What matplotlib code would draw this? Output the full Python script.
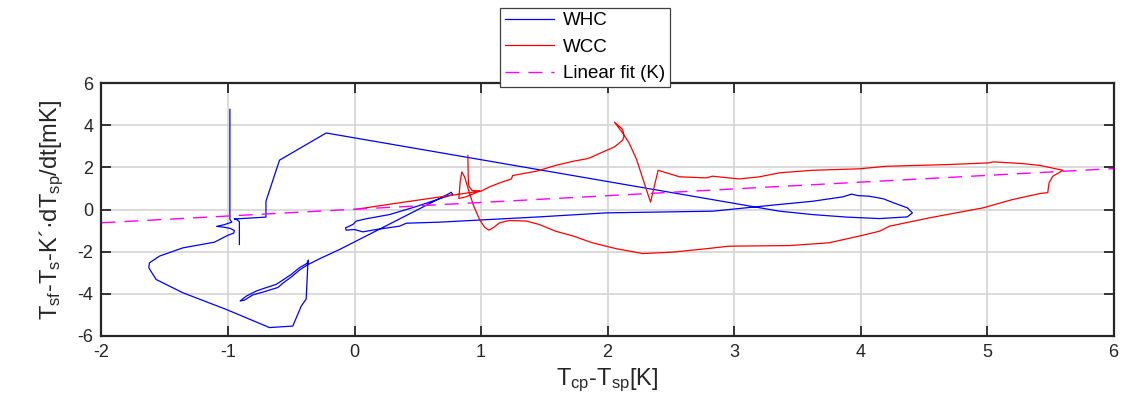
import matplotlib
matplotlib.use('Agg')
from matplotlib import pyplot as plt

plt.rcParams['font.family'] = ['Liberation Sans', 'DejaVu Sans']
plt.rcParams['mathtext.fontset'] = 'custom'
plt.rcParams['mathtext.rm'] = 'Liberation Sans'
plt.rcParams['mathtext.it'] = 'Liberation Sans'

# WHC trajectory
whc_x = [-0.985, -0.985, -0.97, -1.03, -1.09, -1.03, -0.98, -0.95, -0.955, -1.0,
         -1.107, -1.357, -1.541, -1.621, -1.626, -1.568, -1.357, -1.014, -0.672, -0.488,
         -0.421, -0.382, -0.369, -0.364, -0.377, -0.435, -0.50, -0.58, -0.619, -0.725,
         -0.777, -0.856, -0.904, -0.87, -0.804, -0.725, -0.606, -0.567, -0.50, -0.43,
         -0.37, -0.277, -0.119, 0.30, 0.75, 0.764, 0.777, 0.672, 0.488, 0.277,
         0.092, 0.013, -0.013, -0.071, -0.066, 0.0, 0.066, 0.17, 0.356, 0.41,
         0.672, 1.46, 1.99, 2.83, 3.36, 3.62, 3.86, 3.93, 3.98, 4.07,
         4.18, 4.26, 4.37, 4.41, 4.37, 4.15, 3.89, 3.62, 3.36, -0.224,
         -0.593, -0.70, -0.70, -0.95, -0.93, -0.91, -0.91]
whc_y = [4.75, -0.47, -0.60, -0.72, -0.80, -0.84, -0.90, -1.00, -1.12, -1.22,
         -1.55, -1.82, -2.21, -2.53, -2.77, -3.32, -3.95, -4.74, -5.60, -5.53,
         -4.58, -4.25, -2.61, -2.40, -2.56, -2.76, -3.08, -3.40, -3.55, -3.76,
         -3.87, -4.11, -4.34, -4.30, -4.05, -3.92, -3.70, -3.50, -3.20, -2.85,
         -2.62, -2.34, -1.90, -0.62, 0.76, 0.82, 0.71, 0.51, 0.14, -0.24,
         -0.44, -0.55, -0.71, -0.87, -0.98, -0.95, -1.06, -0.95, -0.79, -0.65,
         -0.60, -0.35, -0.16, -0.08, 0.24, 0.39, 0.60, 0.73, 0.66, 0.63,
         0.51, 0.32, 0.08, -0.16, -0.35, -0.43, -0.36, -0.24, -0.08, 3.63,
         2.34, 0.39, -0.36, -0.45, -0.48, -0.58, -1.66]

# WCC trajectory
wcc_x = [0.0, 0.3, 0.6, 0.82, 0.99, 0.88, 0.825, 0.835, 0.848, 0.87,
         0.90, 0.94, 0.99, 1.03, 1.062, 1.107, 1.146, 1.225, 1.36, 1.46,
         1.59, 1.73, 1.88, 2.07, 2.28, 2.52, 2.78, 2.96, 3.44, 3.75,
         3.99, 4.15, 4.23, 4.55, 4.97, 5.2, 5.42, 5.48, 5.49, 5.52,
         5.6, 5.42, 5.28, 5.05, 5.01, 4.68, 4.2, 3.99, 3.62, 3.36,
         3.2, 3.04, 2.83, 2.78, 2.57, 2.40, 2.34, 2.29, 2.23, 2.17,
         2.12, 2.055, 2.12, 2.13, 2.12, 2.055, 1.96, 1.86, 1.83, 1.73,
         1.59, 1.44, 1.25, 1.24, 1.16, 1.07, 1.0, 0.93, 0.905, 0.90,
         0.896]
wcc_y = [0.0, 0.27, 0.53, 0.72, 0.87, 0.60, 0.52, 1.3, 1.78, 1.55,
         0.95, 0.2, -0.5, -0.85, -0.98, -0.82, -0.63, -0.52, -0.55, -0.71,
         -1.03, -1.26, -1.58, -1.86, -2.09, -2.02, -1.86, -1.74, -1.71, -1.58,
         -1.26, -1.03, -0.79, -0.39, 0.08, 0.47, 0.76, 0.80, 1.26, 1.58,
         1.86, 2.09, 2.18, 2.26, 2.21, 2.13, 2.05, 1.93, 1.86, 1.74,
         1.55, 1.45, 1.58, 1.50, 1.55, 1.86, 0.35, 1.26, 2.37, 3.16,
         3.63, 4.14, 3.80, 3.47, 3.29, 2.97, 2.72, 2.45, 2.40, 2.29,
         2.09, 1.82, 1.61, 1.45, 1.29, 1.08, 0.87, 0.90, 1.10, 1.26,
         2.56]

# linear fit (K)
fit_x = [-2, 6]
fit_y = [-0.63, 1.94]

xticks = [-2, -1, 0, 1, 2, 3, 4, 5, 6]
yticks = [-6, -4, -2, 0, 2, 4, 6]

fig = plt.figure(figsize=(11.29, 4.05), dpi=100)
ax = fig.add_axes([0.0899, 0.1704, 0.8964, 0.6246])

ax.plot(whc_x, whc_y, color='#0000ff', lw=0.9, label='WHC')
ax.plot(wcc_x, wcc_y, color='#ff0000', lw=0.9, label='WCC')
ax.plot(fit_x, fit_y, color='#ff00ff', lw=1.0, dashes=(10, 6.5), label='Linear fit (K)')

ax.set_xlim(-2, 6)
ax.set_ylim(-6, 6)
ax.set_xticks(xticks)
ax.set_yticks(yticks)
ax.set_xticklabels([str(v) for v in xticks])
ax.set_yticklabels([str(v) for v in yticks])
ax.grid(True, color='#d4d4d4', lw=1.2)
ax.set_axisbelow(True)
ax.tick_params(direction='in', length=7, width=1.3, top=True, right=True,
               labelsize=13, colors='#262626', pad=6)
for s in ax.spines.values():
    s.set_linewidth(1.6)
    s.set_color('#262626')

ax.set_xlabel(r'$\mathregular{T_{cp}\text{-}T_{sp}[K]}$', fontsize=17, color='#262626', labelpad=4)
ax.set_ylabel('$\\mathregular{T_{sf}\\text{-}T_{s}\\text{-}K\u00b4\u00b7dT_{sp}/dt[mK]}$',
              fontsize=17, color='#262626', labelpad=8)

leg = ax.legend(loc='lower left', bbox_to_anchor=(0.394, 0.984), borderaxespad=0,
                fontsize=13.5, handlelength=2.6, labelspacing=0.5, borderpad=0.25,
                fancybox=False, framealpha=1, edgecolor='#404040', handletextpad=0.5)
leg.get_frame().set_linewidth(0.9)

fig.savefig('out.png', dpi=100)
